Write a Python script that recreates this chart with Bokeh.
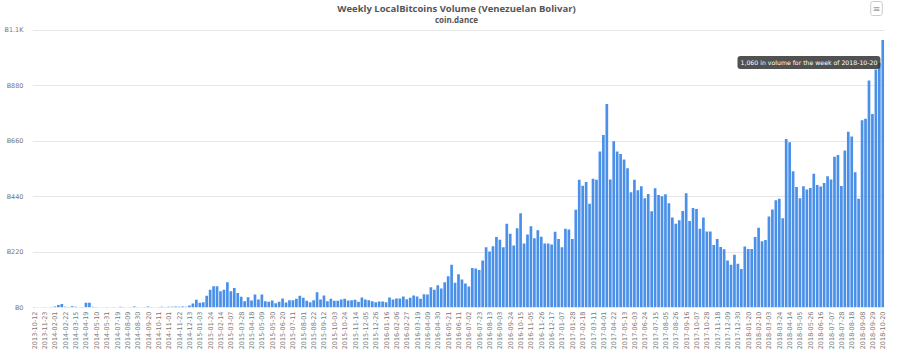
import math
import pandas as pd
from bokeh.plotting import figure
from bokeh.models import Range1d, FixedTicker, Label, ColumnDataSource
from bokeh.embed import file_html
from bokeh.resources import INLINE

# ---- data -------------------------------------------------------------
early_weeks = [
    "2013-10-12", "2013-10-26", "2013-11-09", "2013-11-23", "2013-12-21", "2014-01-11",
    "2014-02-01", "2014-02-08", "2014-02-15", "2014-02-22", "2014-03-01", "2014-03-08",
    "2014-03-15", "2014-03-29", "2014-04-05", "2014-04-19", "2014-04-26", "2014-05-03",
    "2014-05-10", "2014-05-17", "2014-05-24", "2014-05-31", "2014-06-21", "2014-07-05",
    "2014-07-19", "2014-07-26", "2014-08-02", "2014-08-09", "2014-08-16", "2014-08-23",
    "2014-08-30", "2014-09-06", "2014-09-13", "2014-09-20", "2014-09-27", "2014-10-04",
    "2014-10-11", "2014-10-18", "2014-10-25", "2014-11-01", "2014-11-08", "2014-11-15",
    "2014-11-22", "2014-11-29", "2014-12-06", "2014-12-13", "2014-12-20", "2014-12-27",
]
later_weeks = pd.date_range("2015-01-03", "2018-10-20", freq="7D").strftime("%Y-%m-%d").tolist()
weeks = early_weeks + later_weeks

volume = [
    2, 1, 1, 2, 1, 2, 4, 10, 14, 3,
    2, 5, 3, 1, 2, 19, 19, 3, 2, 1,
    1, 2, 1, 2, 1, 3, 2, 1, 2, 4,
    2, 1, 2, 4, 2, 1, 2, 3, 2, 3,
    3, 4, 3, 4, 3,
    8, 16, 31, 19, 21, 47, 70, 84, 84, 64,
    70, 100, 64, 77, 57, 43, 25, 41, 28, 52,
    32, 52, 25, 23, 28, 17, 23, 36, 20, 29,
    29, 35, 47, 39, 27, 21, 29, 60, 32, 48,
    25, 35, 27, 27, 32, 35, 28, 29, 31, 23,
    40, 32, 29, 25, 21, 24, 24, 21, 40, 32,
    36, 36, 44, 33, 39, 48, 44, 35, 53, 52,
    80, 70, 88, 75, 100, 124, 169,
    98, 132, 111, 95, 83, 157, 155, 149, 186, 239,
    222, 243, 279, 269, 239, 332, 292, 246, 314, 374,
    254, 289, 322, 275, 306, 280, 254, 254, 250, 300,
    272, 239, 312, 309, 272, 387, 506, 483, 497, 411,
    510, 506, 618, 684, 807, 507, 659, 618, 608, 587,
    552, 457, 506, 465, 481, 433, 450, 382, 473, 446,
    441, 449, 413, 357, 332, 346, 383, 453, 343, 394,
    390, 312, 357, 301, 301, 248, 272, 240, 231, 186,
    169, 209, 173, 153, 242, 232, 232, 279, 316, 263,
    268, 361, 388, 425, 431, 354, 668, 655, 540, 478,
    433, 481, 468, 474, 530, 486, 480, 494, 520, 507,
    598, 605, 482, 622, 697, 678, 536, 431, 742, 748,
    900, 767, 943, 970, 1060,
]

y_ticks = [0, 220, 440, 660, 880, 1100]
y_tick_labels = ["Ƀ0", "Ƀ220", "Ƀ440", "Ƀ660", "Ƀ880", "Ƀ1.1K"]

title_text = "Weekly LocalBitcoins Volume (Venezuelan Bolivar)"
subtitle_text = "coin.dance"
tooltip_text = "1,060 in volume for the week of 2018-10-20"

# ---- figure -----------------------------------------------------------
n = len(weeks)
src = ColumnDataSource(dict(x=list(range(n)), v=volume, week=weeks))

# frame spans canvas y 0..307; value 1100 sits at canvas y ~29.5
y_top = 1100 * 307 / 277.5

p = figure(width=900, height=353, output_backend="svg", toolbar_location=None,
           x_range=Range1d(-0.5, n - 0.5), y_range=Range1d(0, y_top),
           min_border_left=32, min_border_right=16, min_border_top=0,
           min_border_bottom=46)
p.outline_line_color = None
p.background_fill_color = "white"
p.border_fill_color = "white"

p.vbar(x="x", top="v", width=0.78, source=src, fill_color="#4a90e8", line_color=None)

p.xgrid.visible = False
p.ygrid.grid_line_color = "#e6e6e6"
p.ygrid.grid_line_width = 1

p.yaxis.ticker = FixedTicker(ticks=y_ticks)
p.yaxis.major_label_overrides = dict(zip(y_ticks, y_tick_labels))
p.yaxis.major_label_standoff = 9

tick_idx = list(range(0, n, 3))
p.xaxis.ticker = FixedTicker(ticks=tick_idx)
p.xaxis.major_label_overrides = {i: weeks[i] for i in tick_idx}
p.xaxis.major_label_orientation = math.pi / 2
p.xaxis.major_label_standoff = 4

for ax in (p.xaxis, p.yaxis):
    ax.axis_line_color = None
    ax.major_tick_line_color = None
    ax.minor_tick_line_color = None
    ax.major_tick_out = 0
    ax.major_tick_in = 0
    ax.major_label_text_font = "DejaVu Sans"
    ax.major_label_text_font_size = "6.5px"
    ax.major_label_text_color = "#777777"

# frame: left=32, bottom=307 (canvas coords)
def lab(x, y, text, **kw):
    return Label(x=x - 32, y=307 - y, x_units="screen", y_units="screen", text=text, **kw)

p.add_layout(lab(456, 8, title_text, text_font="Open Sans", text_font_size="9.5px",
                 text_font_style="bold", text_color="#555555", text_align="center",
                 text_baseline="middle"))
p.add_layout(lab(456, 19, subtitle_text, text_font="Open Sans", text_font_size="8px",
                 text_font_style="bold", text_color="#555555", text_align="center",
                 text_baseline="middle"))
p.add_layout(lab(876, 8, "≡", text_font="DejaVu Sans", text_font_size="9px",
                 text_color="#999999", text_align="center", text_baseline="middle",
                 border_line_color="#cccccc", background_fill_color="white",
                 padding=2, border_radius=2))
p.add_layout(lab(737, 62, tooltip_text, text_font="DejaVu Sans", text_font_size="6.2px",
                 text_color="white", text_align="left", text_baseline="middle",
                 background_fill_color="#333333", background_fill_alpha=0.85,
                 padding=3, border_radius=3))

open("out.html", "w").write(file_html(p, INLINE))
